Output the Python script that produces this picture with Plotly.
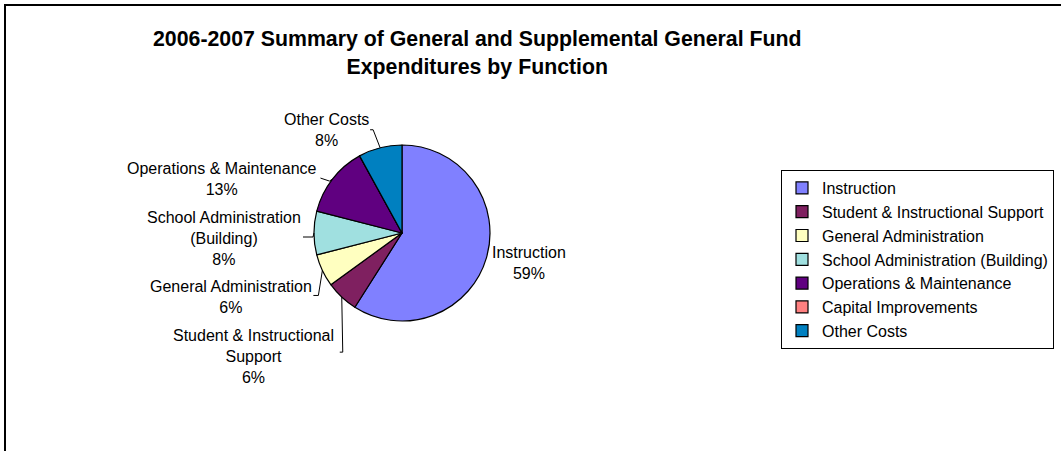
import math
import plotly.graph_objects as go

# ---- data ----
categories = ["Instruction", "Student & Instructional Support", "General Administration",
              "School Administration (Building)", "Operations & Maintenance",
              "Capital Improvements", "Other Costs"]
values = [59, 6, 6, 8, 13, 0, 8]
label_names = ["Instruction", "Student & Instructional<br>Support", "General Administration",
               "School Administration<br>(Building)", "Operations & Maintenance",
               "Capital Improvements", "Other Costs"]
title_text = "<b>2006-2007 Summary of General and Supplemental General Fund<br>Expenditures by Function</b>"

# ---- style ----
colors = ["#8080FF", "#7F2060", "#FFFFC0", "#A0E0E0", "#600080", "#FF8080", "#0080C0"]
W, H = 1061, 451
CX, CY, R = 402, 233, 88
FONT = "Arial, Liberation Sans, sans-serif"
# label placement relative to slice edge midpoint (pixels): dx, dy, xanchor, leader points (dx, dy) or None
label_style = {
    "Instruction": (3, 5, "left", None),
    "Student & Instructional Support": (-6, 59, "right", [(-2, 55), (1, 55)]),
    "General Administration": (-8, 27, "right", [(-9, 25), (-4, 25)]),
    "School Administration (Building)": (-11, 5, "right", [(-11, 4), (-1, 4)]),
    "Operations & Maintenance": (-13, 0, "right", [(-12, -1), (-3, 2)]),
    "Other Costs": (-9, -18, "right", [(-10, -18), (-7, -18)]),
}

def px(x):
    return x / W

def py(y):
    return 1 - y / H

fig = go.Figure(go.Pie(
    labels=categories, values=values, sort=False, direction="clockwise", rotation=0,
    marker=dict(colors=colors, line=dict(color="black", width=1.2)),
    textinfo="none", hoverinfo="label+percent",
    domain=dict(x=[px(CX - R), px(CX + R)], y=[py(CY + R), py(CY - R)]),
))

total = sum(values)
annotations = []
shapes = []
cum = 0
for cat, name, v in zip(categories, label_names, values):
    start = cum
    cum += v
    if v <= 0 or cat not in label_style:
        continue
    theta = 2 * math.pi * (start + v / 2) / total
    ex = CX + R * math.sin(theta)
    ey = CY - R * math.cos(theta)
    dx, dy, xa, leader = label_style[cat]
    pct = round(100 * v / total)
    annotations.append(dict(
        x=px(ex + dx), y=py(ey + dy), xref="paper", yref="paper",
        text=f"{name}<br>{pct}%", showarrow=False, xanchor=xa, yanchor="middle",
        align="center", font=dict(family=FONT, size=16, color="black"),
    ))
    if leader:
        pts = [(ex + a, ey + b) for a, b in leader] + [(ex, ey)]
        path = "M " + " L ".join(f"{px(x)},{py(y)}" for x, y in pts)
        shapes.append(dict(type="path", path=path, xref="paper", yref="paper",
                           line=dict(color="black", width=1)))

# title
annotations.append(dict(x=px(477), y=py(53), xref="paper", yref="paper", text=title_text,
                        showarrow=False, xanchor="center", yanchor="middle", align="center",
                        font=dict(family=FONT, size=21.3, color="black")))

# outer chart border (extends past right/bottom edges)
shapes.append(dict(type="rect", xref="paper", yref="paper", x0=px(5), y0=-0.05, x1=1.05, y1=py(5),
                   line=dict(color="black", width=2), layer="above"))

fig.update_layout(
    width=W, height=H, autosize=False,
    margin=dict(l=0, r=0, t=0, b=0),
    paper_bgcolor="white", plot_bgcolor="white",
    showlegend=True,
    legend=dict(x=px(781), y=py(170), xanchor="left", yanchor="top",
                bordercolor="black", borderwidth=1, bgcolor="white",
                font=dict(family=FONT, size=16, color="black"), tracegroupgap=0),
    annotations=annotations, shapes=shapes,
)

fig.write_html("out.html")
